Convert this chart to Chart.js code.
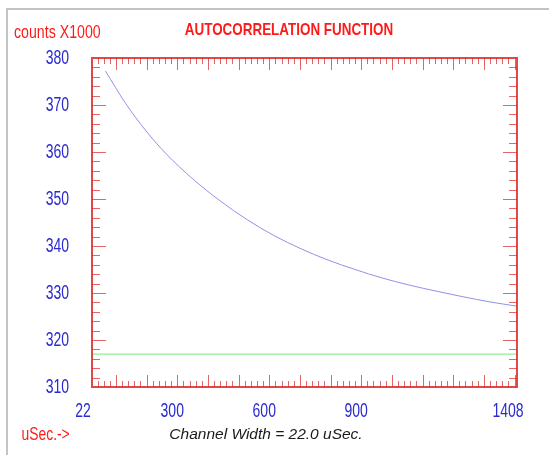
<!DOCTYPE html>
<html>
<head>
<meta charset="utf-8">
<script src="https://cdn.jsdelivr.net/npm/chart.js@4.4.1/dist/chart.umd.min.js"></script>
<style>
  body { margin: 0; background: #fff; }
  .wrap { position: relative; width: 549px; height: 455px; }
  .frame { position: absolute; left: 6px; top: 8px; right: 0; bottom: 0;
           border-top: 2px solid #c4c4c4; border-left: 2px solid #c4c4c4; }
  canvas { position: absolute; left: 0; top: 0; }
</style>
</head>
<body>
<div class="wrap">
  <div class="frame"></div>
  <canvas id="acf" width="549" height="455"></canvas>
</div>
<script>
// channel time (uSec) and counts (x1000)
const channelUs = [66, 132, 198, 264, 352, 440, 528, 616, 704, 792, 880, 968, 1056, 1144, 1232, 1320, 1408];
const acfCounts = [377.2, 370.3, 364.5, 359.6, 354.2, 349.6, 345.6, 342.2, 339.4, 337.0, 335.0, 333.2, 331.7, 330.4, 329.2, 328.1, 327.2];
const baselineUs = [22, 1408];
const baselineCounts = [317, 317];
const xTickLabels = [22, 300, 600, 900, 1408];
const yTickLabels = [310, 320, 330, 340, 350, 360, 370, 380];

// no Arial Narrow here, so squeeze Liberation Sans horizontally
const sans = '"Liberation Sans", Arial, sans-serif';
const tickRed = 'rgba(220, 50, 50, 0.75)';
const labelBlue = '#2a2ad0';

function narrowText(ctx, text, x, y, font, sx, align) {
    ctx.save();
    ctx.font = font;
    ctx.textAlign = align;
    ctx.textBaseline = 'middle';
    ctx.translate(x, y);
    ctx.scale(sx, 1);
    ctx.fillText(text, 0, 0);
    ctx.restore();
}

const decorations = {
    id: 'decorations',
    afterDatasetsDraw(chart) {
        const ctx = chart.ctx;
        const xs = chart.scales.x, ys = chart.scales.y;
        const a = chart.chartArea;
        ctx.save();
        ctx.strokeStyle = tickRed;
        ctx.lineWidth = 1;
        ctx.beginPath();
        // x ticks, inward on top and bottom
        for (let v = 40; v < 1408; v += 20) {
            const px = Math.round(xs.getPixelForValue(v)) + 0.5;
            const len = v % 100 === 0 ? 12 : 6;
            ctx.moveTo(px, a.bottom); ctx.lineTo(px, a.bottom - len);
            ctx.moveTo(px, a.top); ctx.lineTo(px, a.top + len);
        }
        // y ticks, inward on left and right
        for (let v = 312; v < 380; v += 2) {
            const py = Math.round(ys.getPixelForValue(v)) + 0.5;
            const len = v % 10 === 0 ? 14 : 8;
            ctx.moveTo(a.left, py); ctx.lineTo(a.left + len, py);
            ctx.moveTo(a.right, py); ctx.lineTo(a.right - len, py);
        }
        ctx.stroke();
        ctx.strokeStyle = 'rgba(220, 40, 40, 0.85)';
        ctx.lineWidth = 2;
        ctx.strokeRect(a.left, a.top, a.right - a.left, a.bottom - a.top);
        ctx.restore();
    },
    afterDraw(chart) {
        const ctx = chart.ctx;
        const xs = chart.scales.x, ys = chart.scales.y;
        const a = chart.chartArea;
        ctx.save();
        ctx.fillStyle = labelBlue;
        xTickLabels.forEach((v, i) => {
            const edge = i === 0 || i === xTickLabels.length - 1;
            const px = xs.getPixelForValue(v) + (edge ? -9 : -5);
            narrowText(ctx, String(v), px, a.bottom + 24, '20px ' + sans, 0.7, 'center');
        });
        yTickLabels.forEach(v => {
            narrowText(ctx, String(v), a.left - 23, ys.getPixelForValue(v), '20px ' + sans, 0.7, 'right');
        });
        ctx.fillStyle = '#ff1a1a';
        narrowText(ctx, 'AUTOCORRELATION FUNCTION', 289, 30, 'bold 17px ' + sans, 0.79, 'center');
        narrowText(ctx, 'counts X1000', 14, 33, '17.5px ' + sans, 0.81, 'left');
        narrowText(ctx, 'uSec.->', 21.5, 435, '18.5px ' + sans, 0.75, 'left');
        ctx.fillStyle = '#1a1a1a';
        ctx.textAlign = 'center';
        ctx.textBaseline = 'middle';
        ctx.font = 'italic 15.5px ' + sans;
        ctx.fillText('Channel Width = 22.0 uSec.', 266, 435);
        ctx.restore();
    }
};

new Chart(document.getElementById('acf'), {
    type: 'line',
    data: {
        datasets: [{
            label: 'ACF',
            data: channelUs.map((x, i) => ({ x: x, y: acfCounts[i] })),
            borderColor: 'rgb(145, 145, 228)',
            borderWidth: 1,
            pointRadius: 0,
            cubicInterpolationMode: 'monotone',
        }, {
            label: 'Baseline',
            data: baselineUs.map((x, i) => ({ x: x, y: baselineCounts[i] })),
            borderColor: 'rgb(120, 230, 120)',
            borderWidth: 1,
            pointRadius: 0,
        }],
    },
    options: {
        responsive: false,
        animation: false,
        devicePixelRatio: 1,
        layout: { padding: { left: 0, top: 58, right: 32, bottom: 0 } },
        plugins: { legend: { display: false }, tooltip: { enabled: false } },
        scales: {
            x: {
                type: 'linear',
                min: 22,
                max: 1408,
                afterBuildTicks: scale => { scale.ticks = xTickLabels.map(v => ({ value: v })); },
                afterFit: scale => { scale.height = 68; },
                grid: { display: false },
                border: { display: false },
                ticks: { display: false },
            },
            y: {
                min: 310,
                max: 380,
                afterBuildTicks: scale => { scale.ticks = yTickLabels.map(v => ({ value: v })); },
                afterFit: scale => { scale.width = 92; },
                grid: { display: false },
                border: { display: false },
                ticks: { display: false },
            },
        },
    },
    plugins: [decorations],
});
</script>
</body>
</html>
